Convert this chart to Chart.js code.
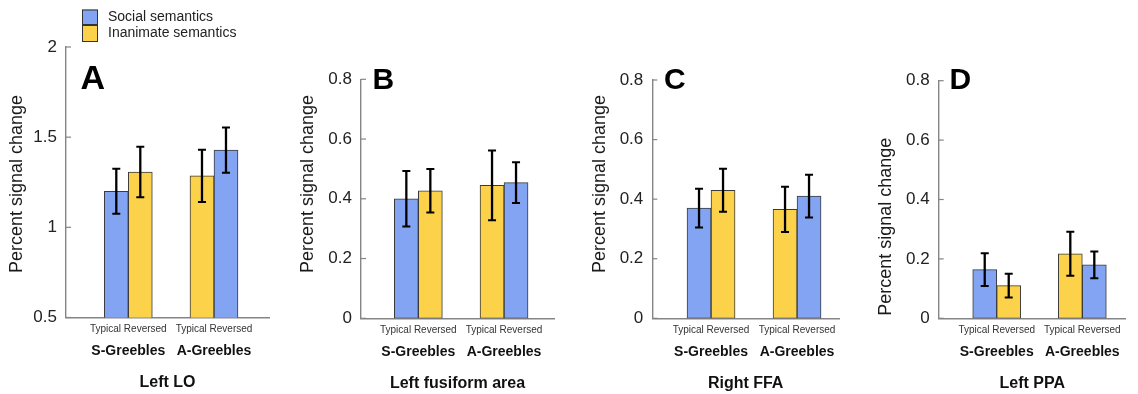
<!DOCTYPE html>
<html><head><meta charset="utf-8">
<script src="https://cdn.jsdelivr.net/npm/chart.js@4/dist/chart.umd.min.js"></script>
<style>
html,body{margin:0;padding:0;background:#fff;}
#wrap{position:relative;width:1138px;height:394px;overflow:hidden;background:#fff;}
canvas{position:absolute;left:0;top:0;}
</style></head><body>
<div id="wrap">
<canvas id="cA" width="1138" height="394"></canvas>
<canvas id="cB" width="1138" height="394"></canvas>
<canvas id="cC" width="1138" height="394"></canvas>
<canvas id="cD" width="1138" height="394"></canvas>
</div>
<script>
// ---------- DATA ----------
const categories = ['S-Greebles', 'A-Greebles'];
const conditions = ['Typical', 'Reversed'];
const semantics = ['Social semantics', 'Inanimate semantics'];
// semantics index of each bar, per category [S-Greebles, A-Greebles]
const typicalSemantics = [0, 1];
const reversedSemantics = [1, 0];
const regions = ['Left LO', 'Left fusiform area', 'Right FFA', 'Left PPA'];
const panelLetters = ['A', 'B', 'C', 'D'];
const yTitle = 'Percent signal change';

const ticksLO = [0.5, 1, 1.5, 2];
const tickLabelsLO = ['0.5', '1', '1.5', '2'];
const ticksPSC = [0, 0.2, 0.4, 0.6, 0.8];
const tickLabelsPSC = ['0', '0.2', '0.4', '0.6', '0.8'];

// means and error (SE), order [S-Greebles, A-Greebles]
const loTypical = [1.20, 1.285];
const loTypicalErr = [0.125, 0.145];
const loReversed = [1.307, 1.428];
const loReversedErr = [0.14, 0.125];

const lfaTypical = [0.40, 0.445];
const lfaTypicalErr = [0.093, 0.117];
const lfaReversed = [0.427, 0.454];
const lfaReversedErr = [0.073, 0.068];

const rffaTypical = [0.370, 0.366];
const rffaTypicalErr = [0.065, 0.076];
const rffaReversed = [0.430, 0.410];
const rffaReversedErr = [0.072, 0.072];

const lppaTypical = [0.164, 0.217];
const lppaTypicalErr = [0.055, 0.074];
const lppaReversed = [0.110, 0.180];
const lppaReversedErr = [0.040, 0.045];

// ---------- STYLE / LAYOUT ----------
const FONT = '"Liberation Sans", Arial, Helvetica, sans-serif';
const semColors = ['#82a4f3', '#fdd24b'];
const AXIS = '#858585';
const W = 1138, H = 394;
const YW = 40, HX = 20, HG = 55;

const layouts = [
  {left: 66, right: 269, top: 47, bottom: 317.5, xmin: 0.273, xmax: 2.642,
   letter: {x: 80.5, y: 88.5, size: 34}, yt: {x: 22, y: 184}, legend: true},
  {left: 361, right: 554, top: 79.3, bottom: 318.3, xmin: 0.331, xmax: 2.583,
   letter: {x: 372.5, y: 89.3, size: 30}, yt: {x: 313, y: 184}},
  {left: 652.3, right: 839, top: 80, bottom: 318.3, xmin: 0.317, xmax: 2.488,
   letter: {x: 664, y: 88.8, size: 30}, yt: {x: 604.5, y: 184}},
  {left: 938.7, right: 1125.7, top: 80.7, bottom: 318.3, xmin: 0.322, xmax: 2.507,
   letter: {x: 949.5, y: 89.3, size: 30}, yt: {x: 891, y: 226.7}}
];

const extras = {
  id: 'extras',
  afterDatasetsDraw(chart, args, o) {
    const ctx = chart.ctx, ys = chart.scales.y;
    ctx.save();
    ctx.strokeStyle = '#000';
    chart.data.datasets.forEach((ds, di) => {
      const meta = chart.getDatasetMeta(di);
      meta.data.forEach((bar, j) => {
        const m = ds.data[j].y, e = ds.errors[j];
        const x = bar.x;
        const yt = ys.getPixelForValue(m + e), yb = ys.getPixelForValue(m - e);
        ctx.lineWidth = 2.3;
        ctx.beginPath(); ctx.moveTo(x, yt); ctx.lineTo(x, yb); ctx.stroke();
        ctx.lineWidth = 2;
        ctx.beginPath();
        ctx.moveTo(x - 4, yt); ctx.lineTo(x + 4, yt);
        ctx.moveTo(x - 4, yb); ctx.lineTo(x + 4, yb);
        ctx.stroke();
      });
    });
    ctx.restore();
  },
  afterDraw(chart, args, o) {
    const ctx = chart.ctx, ys = chart.scales.y, ca = chart.chartArea;
    ctx.save();
    // inward tick marks on y axis
    ctx.strokeStyle = AXIS; ctx.lineWidth = 1.2;
    ys.ticks.forEach(t => {
      const py = ys.getPixelForValue(t.value);
      ctx.beginPath(); ctx.moveTo(ca.left, py); ctx.lineTo(ca.left + 5, py); ctx.stroke();
    });
    // panel letter
    ctx.fillStyle = '#000';
    ctx.font = 'bold ' + o.letter.size + 'px ' + FONT;
    ctx.textAlign = 'left'; ctx.textBaseline = 'alphabetic';
    ctx.fillText(o.letterText, o.letter.x, o.letter.y);
    // y axis title
    ctx.save();
    ctx.translate(o.yt.x, o.yt.y);
    ctx.rotate(-Math.PI / 2);
    ctx.font = '18px ' + FONT;
    ctx.fillStyle = '#1a1a1a';
    ctx.textAlign = 'center';
    ctx.fillText(yTitle, 0, 0);
    ctx.restore();
    // legend
    if (o.legend) {
      const boxes = [[82, 9.5, 16, 15.5], [82, 25, 16, 17]];
      const base = [20.8, 37];
      semantics.forEach((s, i) => {
        const b = boxes[i];
        ctx.fillStyle = semColors[i];
        ctx.fillRect(b[0], b[1], b[2], b[3]);
        ctx.strokeStyle = '#333'; ctx.lineWidth = 1;
        ctx.strokeRect(b[0] + 0.5, b[1] + 0.5, b[2] - 1, b[3] - 1);
        ctx.fillStyle = '#222';
        ctx.font = '14px ' + FONT;
        ctx.textAlign = 'left';
        ctx.fillText(s, 108, base[i]);
      });
    }
    ctx.restore();
  }
};

function makeChart(canvasId, idx, typ, typErr, rev, revErr, yTicks, yLabels) {
  const L = layouts[idx];
  const yMin = yTicks[0], yMax = yTicks[yTicks.length - 1];
  const mk = (vals) => vals.map((v, j) => ({x: j + 1, y: v}));
  new Chart(document.getElementById(canvasId), {
    type: 'bar',
    data: {
      datasets: [
        {label: conditions[0], data: mk(typ), errors: typErr,
         backgroundColor: typicalSemantics.map(s => semColors[s]),
         borderColor: '#3a3a3a', borderWidth: 1, borderSkipped: false, barThickness: 24},
        {label: conditions[1], data: mk(rev), errors: revErr,
         backgroundColor: reversedSemantics.map(s => semColors[s]),
         borderColor: '#3a3a3a', borderWidth: 1, borderSkipped: false, barThickness: 24}
      ]
    },
    options: {
      responsive: false,
      animation: false,
      events: [],
      layout: {padding: {left: L.left - YW, right: W - L.right, top: L.top, bottom: H - L.bottom - HX - HG}},
      plugins: {
        legend: {display: false}, tooltip: {enabled: false},
        extras: {letter: L.letter, letterText: panelLetters[idx], yt: L.yt, legend: !!L.legend}
      },
      scales: {
        x: {
          type: 'linear', position: 'bottom', min: L.xmin, max: L.xmax, offset: false,
          afterFit: s => { s.height = HX; },
          afterBuildTicks: s => { s.ticks = categories.map((c, i) => ({value: i + 1})); },
          ticks: {callback: () => conditions.join(' '), padding: 6, autoSkip: false, maxRotation: 0,
                  color: '#333', font: {family: FONT, size: 10}},
          grid: {display: false, drawTicks: false},
          border: {display: true, color: AXIS, width: 1.4}
        },
        xg: {
          type: 'linear', position: 'bottom', min: L.xmin, max: L.xmax, offset: false,
          afterFit: s => { s.height = HG; },
          afterBuildTicks: s => { s.ticks = categories.map((c, i) => ({value: i + 1})); },
          ticks: {callback: (v, i) => categories[i], padding: 5.6, autoSkip: false, maxRotation: 0,
                  color: '#111', font: {family: FONT, size: 14, weight: 'bold'}},
          grid: {display: false, drawTicks: false},
          border: {display: false},
          title: {display: true, text: regions[idx], color: '#111', padding: {top: 0, bottom: 0},
                  font: {family: FONT, size: 16, weight: 'bold'}}
        },
        y: {
          type: 'linear', min: yMin, max: yMax,
          afterFit: s => { s.width = YW; },
          afterBuildTicks: s => { s.ticks = yTicks.map(v => ({value: v})); },
          ticks: {callback: (v, i) => yLabels[i], padding: 9, color: '#222',
                  font: {family: FONT, size: 17}},
          grid: {display: false, drawTicks: false},
          border: {display: true, color: AXIS, width: 1.4}
        }
      }
    },
    plugins: [extras]
  });
}

makeChart('cA', 0, loTypical, loTypicalErr, loReversed, loReversedErr, ticksLO, tickLabelsLO);
makeChart('cB', 1, lfaTypical, lfaTypicalErr, lfaReversed, lfaReversedErr, ticksPSC, tickLabelsPSC);
makeChart('cC', 2, rffaTypical, rffaTypicalErr, rffaReversed, rffaReversedErr, ticksPSC, tickLabelsPSC);
makeChart('cD', 3, lppaTypical, lppaTypicalErr, lppaReversed, lppaReversedErr, ticksPSC, tickLabelsPSC);
</script>
</body></html>
